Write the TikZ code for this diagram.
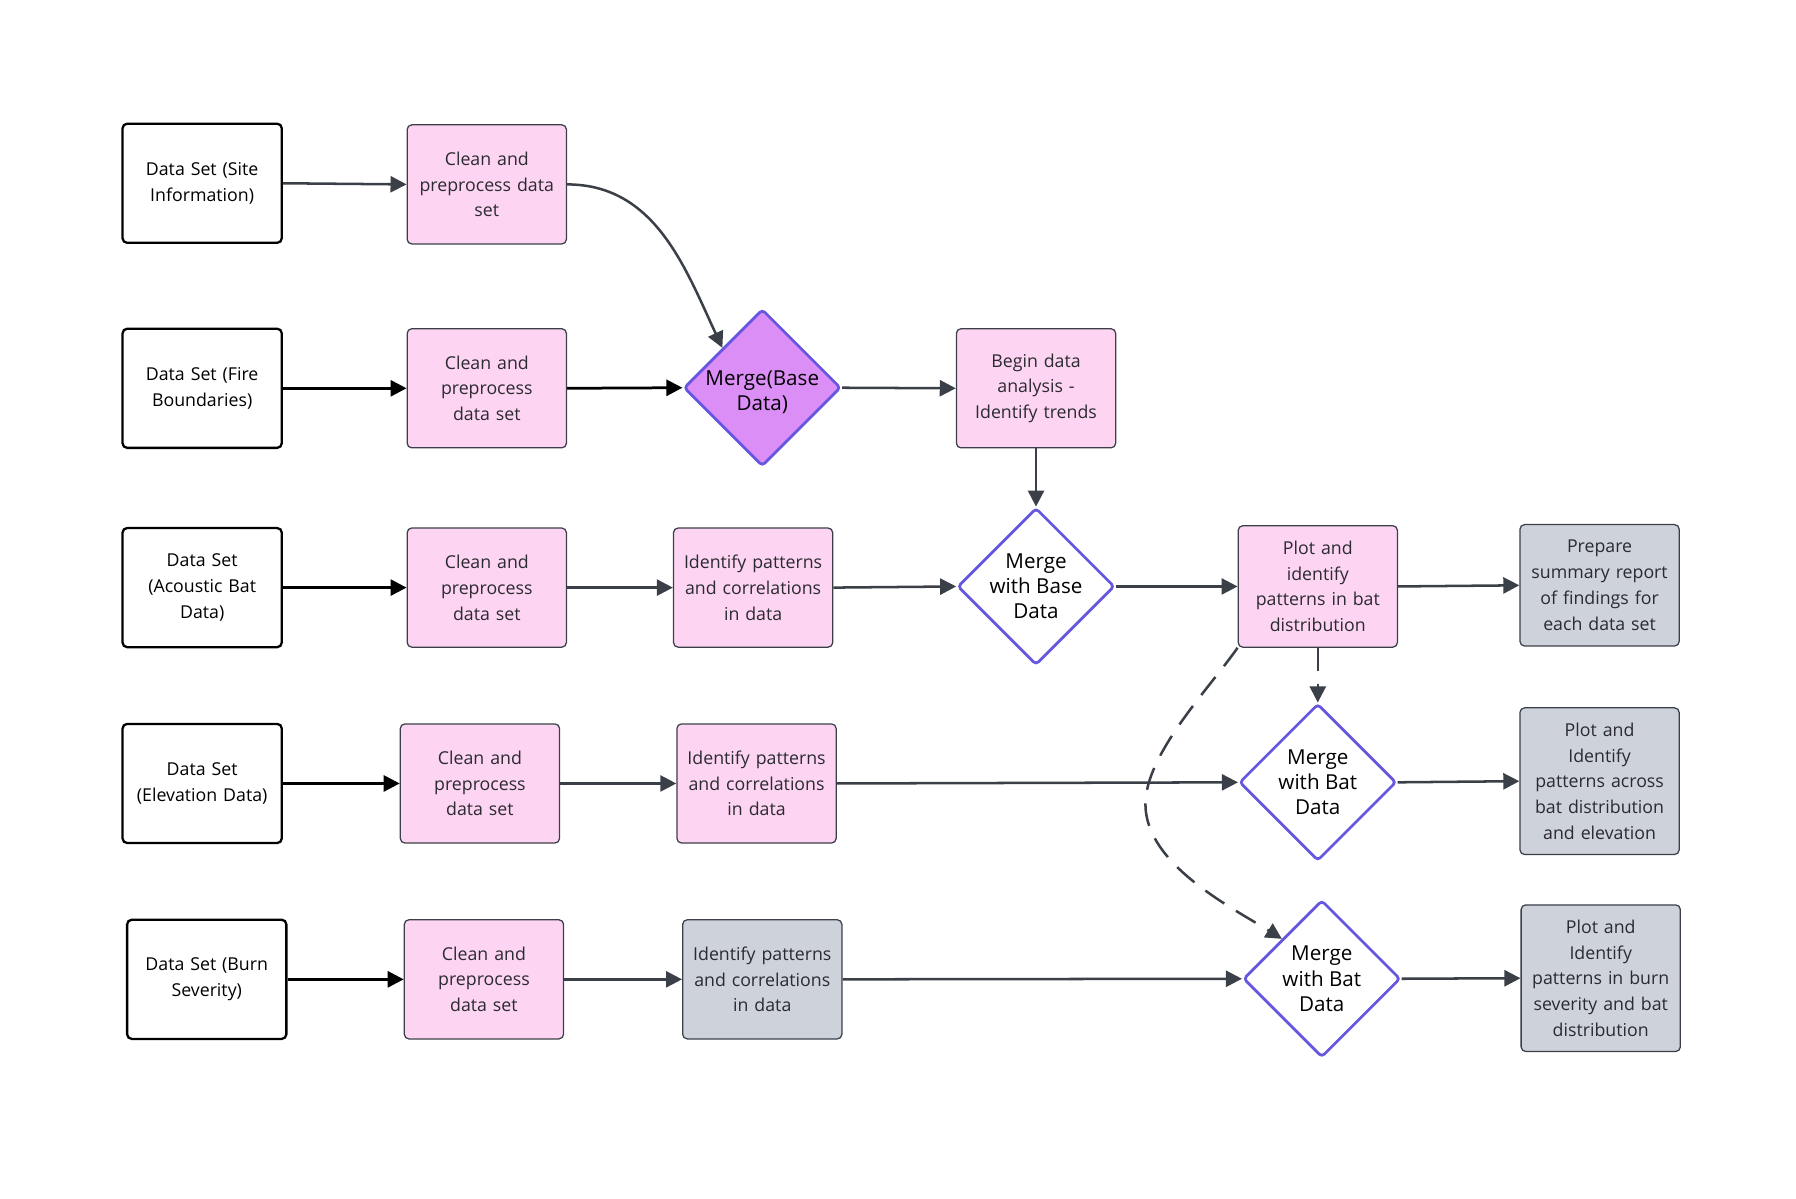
\documentclass[tikz,border=0pt]{standalone}
\usepackage{fontspec}
\setmainfont{Open Sans}
\usetikzlibrary{arrows.meta,shapes.geometric}
\definecolor{pinkfill}{HTML}{FDD5F3}
\definecolor{grayfill}{HTML}{CED3DB}
\definecolor{edgegray}{HTML}{3B4048}
\definecolor{diaborder}{HTML}{6657E0}
\definecolor{orchid}{HTML}{DB8EF6}
\definecolor{txt}{HTML}{2A2A30}
\begin{document}
\begin{tikzpicture}[x=1pt,y=-1pt,
  every node/.style={font=\fontsize{15.5}{22.5}\selectfont, align=center},
  srcbox/.style={draw=black, line width=2pt, rounded corners=4pt, fill=white, minimum width=139pt, minimum height=104pt, text width=136pt, inner sep=0pt, text=black},
  pinkbox/.style={draw=edgegray, line width=1.1pt, rounded corners=4pt, fill=pinkfill, minimum width=139pt, minimum height=104pt, text width=136pt, inner sep=0pt, text=txt},
  graybox/.style={draw=edgegray, line width=1.1pt, rounded corners=4pt, fill=grayfill, minimum width=139pt, minimum height=104pt, text width=136pt, inner sep=0pt, text=txt},
  dia/.style={diamond, draw=diaborder, line width=2.4pt, rounded corners=3pt, fill=white, minimum width=137pt, minimum height=137pt, inner sep=0pt},
  diatext/.style={font=\fontsize{18}{22}\selectfont, text=black, inner sep=0pt},
  arr/.style={draw=edgegray, line width=2.2pt, -{Triangle[length=14pt,width=14pt]}},
  barr/.style={draw=black, line width=2.4pt, -{Triangle[length=14pt,width=14pt]}},
  darr/.style={arr, dash pattern=on 20pt off 12pt}
]
\useasboundingbox (0,0) rectangle (1568,1046);
% row 1
\node[srcbox] (A1) at (176.5,160) {Data Set (Site\\Information)};
\node[pinkbox] (C1) at (425,161) {Clean and\\preprocess data\\set};
% row 2
\node[srcbox] (A2) at (176.5,339) {Data Set (Fire\\Boundaries)};
\node[pinkbox] (C2) at (425,339) {Clean and\\preprocess\\data set};
\node[dia, fill=orchid] (M1) at (665.5,338.5) {};
\node[diatext] (M1t) at ([yshift=-4pt]M1.center) {Merge(Base\\Data)};
\node[pinkbox] (B) at (904.5,339) {Begin data\\analysis -\\Identify trends};
% row 3
\node[srcbox] (A3) at (176.5,513) {Data Set\\(Acoustic Bat\\Data)};
\node[pinkbox] (C3) at (425,513) {Clean and\\preprocess\\data set};
\node[pinkbox] (I3) at (657.5,513) {Identify patterns\\and correlations\\in data};
\node[dia] (M2) at (904.5,512) {};
\node[diatext] (M2t) at (M2.center) {Merge\\with Base\\Data};
\node[pinkbox, minimum height=106pt] (P) at (1150.5,512) {Plot and\\identify\\patterns in bat\\distribution};
\node[graybox, minimum height=106pt] (S) at (1396.5,511) {Prepare\\summary report\\of findings for\\each data set};
% row 4
\node[srcbox] (A4) at (176.5,684) {Data Set\\(Elevation Data)};
\node[pinkbox] (C4) at (419,684) {Clean and\\preprocess\\data set};
\node[pinkbox] (I4) at (660.5,684) {Identify patterns\\and correlations\\in data};
\node[dia] (M3) at (1150.5,683) {};
\node[diatext] (M3t) at (M3.center) {Merge\\with Bat\\Data};
\node[graybox, minimum height=128pt] (R4) at (1396.5,682) {Plot and\\Identify\\patterns across\\bat distribution\\and elevation};
% row 5
\node[srcbox] (A5) at (180.5,855) {Data Set (Burn\\Severity)};
\node[pinkbox] (C5) at (422.5,855) {Clean and\\preprocess\\data set};
\node[graybox] (I5) at (665.5,855) {Identify patterns\\and correlations\\in data};
\node[dia] (M4) at (1154,854.5) {};
\node[diatext] (M4t) at (M4.center) {Merge\\with Bat\\Data};
\node[graybox, minimum height=128pt] (R5) at (1397.5,854) {Plot and\\Identify\\patterns in burn\\severity and bat\\distribution};
\coordinate (bend) at (1000,702);
% connectors
\draw[arr] (A1.east) -- (C1.west);
\draw[arr] (C1.east) to[out=0,in=115] (M1.north west);
\draw[barr] (A2.east) -- (C2.west);
\draw[barr] (C2.east) -- (M1.west);
\draw[arr] (M1.east) -- (B.west);
\draw[arr] (B.south) -- (M2.north);
\draw[barr] (A3.east) -- (C3.west);
\draw[arr] (C3.east) -- (I3.west);
\draw[arr] (I3.east) -- (M2.west);
\draw[arr] (M2.east) -- (P.west);
\draw[arr] (P.east) -- (S.west);
\draw[darr] (P.south) -- (M3.north);
\draw[darr] (P.south west) to[out=-125,in=90,looseness=0.7] (bend) to[out=-90,in=148,looseness=0.8] (M4.north west);
\draw[barr] (A4.east) -- (C4.west);
\draw[arr] (C4.east) -- (I4.west);
\draw[arr] (I4.east) -- (M3.west);
\draw[arr] (M3.east) -- (R4.west);
\draw[barr] (A5.east) -- (C5.west);
\draw[arr] (C5.east) -- (I5.west);
\draw[arr] (I5.east) -- (M4.west);
\draw[arr] (M4.east) -- (R5.west);
\end{tikzpicture}
\end{document}
